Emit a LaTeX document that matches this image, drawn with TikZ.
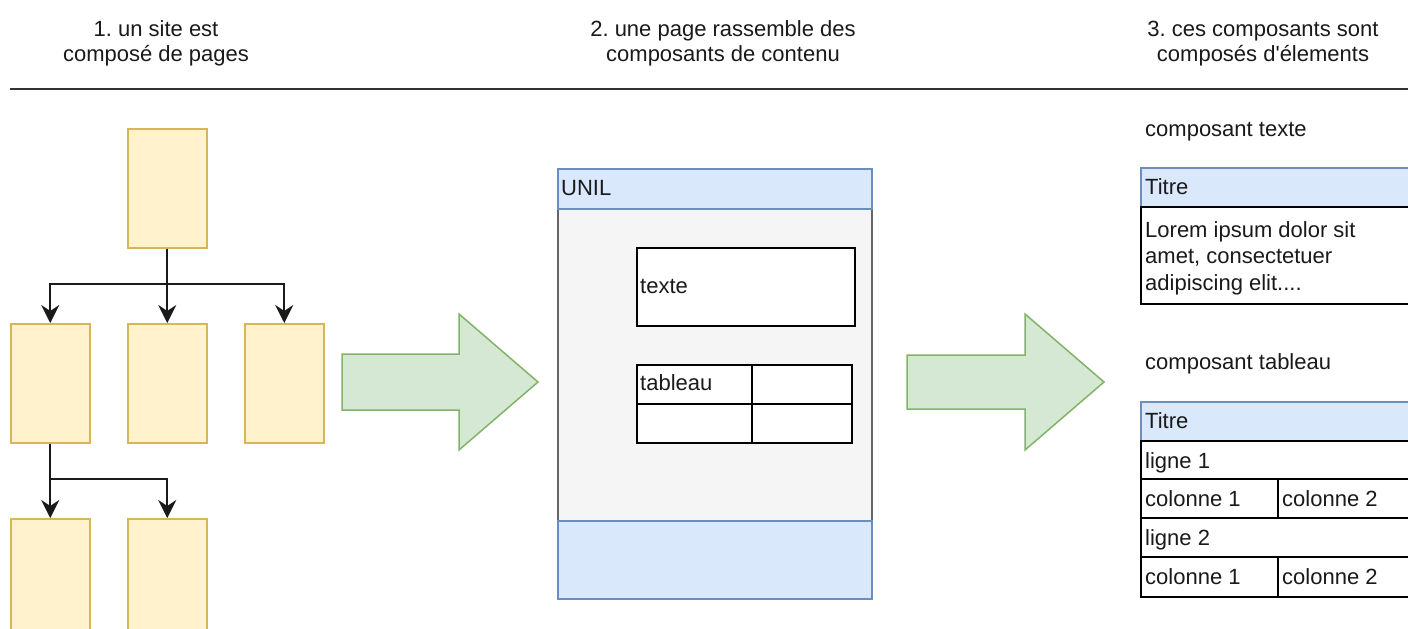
\documentclass[tikz,border=0pt]{standalone}
\usepackage{fontspec}
\setmainfont{Liberation Sans}
\usetikzlibrary{arrows.meta}
\definecolor{yfill}{HTML}{FFF2CC}
\definecolor{ydraw}{HTML}{D6B656}
\definecolor{bfill}{HTML}{DAE8FC}
\definecolor{bdraw}{HTML}{6C8EBF}
\definecolor{gfill}{HTML}{D5E8D4}
\definecolor{gdraw}{HTML}{82B366}
\definecolor{pfill}{HTML}{F5F5F5}
\definecolor{pdraw}{HTML}{666666}
\definecolor{txt}{HTML}{1A1A1A}
\definecolor{rule}{HTML}{333333}
\frenchspacing
\begin{document}
\begin{tikzpicture}[x=1pt,y=-1pt,
  every node/.style={font=\fontsize{22}{25}\selectfont, inner sep=0pt, text=txt},
  pagebox/.style={draw=ydraw, fill=yfill, line width=1.5pt, minimum width=79pt, minimum height=119pt, anchor=north west},
  lowbox/.style={pagebox, minimum height=140pt},
  conn/.style={draw=txt, line width=2pt, -{Stealth[length=18pt, width=18pt, inset=6pt]}},
  bigarrow/.style={draw=gdraw, fill=gfill, line width=1.5pt, line join=miter},
  band/.style={draw=bdraw, fill=bfill, line width=1.5pt},
  cell/.style={draw=black, fill=white, line width=1.5pt},
  label/.style={anchor=base west},
  head/.style={anchor=base}
]
\clip (0,0) rectangle (1408,629);
\fill[white] (0,0) rectangle (1408,629);

% headers
\node[head] (h1a) at (156,36) {1. un site est};
\node[head] (h1b) at (156,61) {composé de pages};
\node[head] (h2a) at (723,36) {2. une page rassemble des};
\node[head] (h2b) at (723,61) {composants de contenu};
\node[head] (h3a) at (1263,36) {3. ces composants sont};
\node[head] (h3b) at (1263,61) {composés d\textquotesingle élements};
\draw[rule, line width=2pt] (10,89) -- (1420,89);

% site tree
\node[pagebox] (p0) at (127,128) {};
\node[pagebox] (p1) at (10,323) {};
\node[pagebox] (p2) at (127,323) {};
\node[pagebox] (p3) at (244,323) {};
\node[lowbox] (p4) at (10,518) {};
\node[lowbox] (p5) at (127,518) {};
\coordinate (j1) at (p0.south |- 0,284);
\coordinate (j2) at (p1.south |- 0,479);
\draw[conn] (p0.south) -- (j1) -| (p1.north);
\draw[conn] (p0.south) -- (p2.north);
\draw[conn] (p0.south) -- (j1) -| (p3.north);
\draw[conn] (p1.south) -- (p4.north);
\draw[conn] (p1.south) -- (j2) -| (p5.north);

% big arrows
\draw[bigarrow] (342,354) -- (459,354) -- (459,314) -- (538,382) -- (459,450) -- (459,410) -- (342,410) -- cycle;
\draw[bigarrow] (907,355) -- (1025,355) -- (1025,314) -- (1104,382) -- (1025,450) -- (1025,409) -- (907,409) -- cycle;

% page
\draw[draw=pdraw, fill=pfill, line width=1.5pt] (558,169) rectangle (872,599);
\draw[band] (558,169) rectangle (872,209);
\draw[band] (558,521) rectangle (872,599);
\node[label] (unil) at (561,195) {UNIL};
\draw[cell] (637,248) rectangle (855,326);
\node[label] (texte) at (640,293) {texte};
\draw[cell] (637,365) rectangle (852,443);
\draw[black, line width=1.5pt] (637,404) -- (852,404);
\draw[black, line width=1.5pt] (752,365) -- (752,443);
\node[label] (tableau) at (640,390) {tableau};

% composant texte
\node[label] (ct) at (1145,136) {composant texte};
\draw[band] (1141,168) rectangle (1420,207);
\node[label] (t1) at (1145,194) {Titre};
\draw[cell] (1141,207) rectangle (1420,304);
\node[label] (l1) at (1145,237) {Lorem ipsum dolor sit};
\node[label] (l2) at (1145,263) {amet, consectetuer};
\node[label] (l3) at (1145,290) {adipiscing elit....};

% composant tableau
\node[label] (ctab) at (1145,369) {composant tableau};
\draw[band] (1141,402) rectangle (1420,441);
\node[label] (t2) at (1145,428) {Titre};
\draw[cell] (1141,441) rectangle (1420,479);
\draw[cell] (1141,479) rectangle (1278,518);
\draw[cell] (1278,479) rectangle (1420,518);
\draw[cell] (1141,518) rectangle (1420,557);
\draw[cell] (1141,557) rectangle (1278,597);
\draw[cell] (1278,557) rectangle (1420,597);
\node[label] (r1) at (1145,468) {ligne 1};
\node[label] (r2a) at (1145,506) {colonne 1};
\node[label] (r2b) at (1282,506) {colonne 2};
\node[label] (r3) at (1145,545) {ligne 2};
\node[label] (r4a) at (1145,584) {colonne 1};
\node[label] (r4b) at (1282,584) {colonne 2};
\end{tikzpicture}
\end{document}
